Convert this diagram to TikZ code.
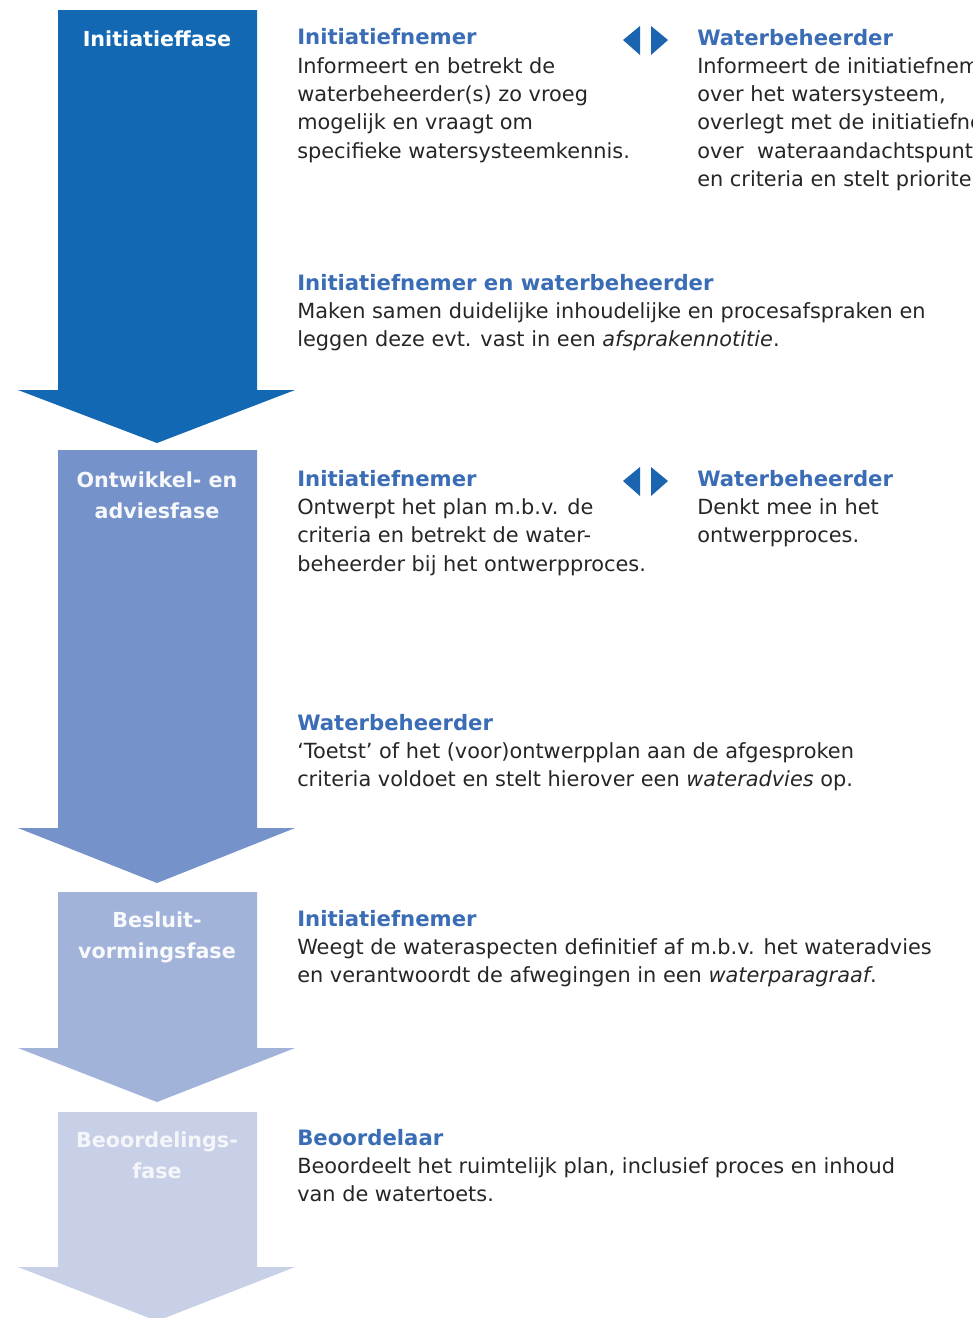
\documentclass[tikz,border=0pt]{standalone}
\usepackage{fontspec}
\setmainfont{DejaVu Sans}
\definecolor{cA}{HTML}{1268B3}
\definecolor{cB}{HTML}{7592CA}
\definecolor{cC}{HTML}{A2B3DA}
\definecolor{cD}{HTML}{C8D0E8}
\definecolor{headblue}{HTML}{3A6DB5}
\definecolor{bodytext}{HTML}{262626}
\definecolor{symblue}{HTML}{1B64B0}
\newcommand{\hdtxt}[1]{{\color{headblue}\fontsize{15.9}{21.2}\selectfont\bfseries #1}}
\tikzset{
  phasearrow/.style={fill=#1, draw=none},
  phaselabel/.style={text=#1, font=\fontsize{15.5}{23.25}\selectfont\bfseries, align=center, anchor=base, inner sep=0pt},
  blk/.style={text=bodytext, font=\fontsize{15.65}{21.2}\selectfont, align=left, anchor=base west, inner sep=0pt},
  tri/.style={fill=symblue, draw=none}
}
\begin{document}
\begin{tikzpicture}[x=0.75pt,y=-0.75pt]
\useasboundingbox (0,0) rectangle (973,1318);
\fill[white] (0,0) rectangle (973,1318);
% phase arrows
\fill[phasearrow=cA] (58,10) -- (257,10) -- (257,390) -- (295,390) -- (157,443) -- (18,390) -- (58,390) -- cycle;
\fill[phasearrow=cB] (58,450) -- (257,450) -- (257,828) -- (295,828) -- (157,883) -- (18,828) -- (58,828) -- cycle;
\fill[phasearrow=cC] (58,892) -- (257,892) -- (257,1048) -- (295,1048) -- (157,1102) -- (18,1048) -- (58,1048) -- cycle;
\fill[phasearrow=cD] (58,1112) -- (257,1112) -- (257,1267) -- (295,1267) -- (157,1321) -- (18,1267) -- (58,1267) -- cycle;
% phase labels (anchored at the baseline of the last line)
\node[phaselabel=white] (p1) at (157,46) {Initiatieffase};
\node[phaselabel={white!94!cB}] (p2) at (157,518) {Ontwikkel- en\\adviesfase};
\node[phaselabel={white!94!cC}] (p3) at (157,958) {Besluit-\\vormingsfase};
\node[phaselabel={white!80!cD}] (p4) at (157,1178) {Beoordelings-\\fase};
% double arrow symbols
\fill[tri] (623,40) -- (640,26) -- (640,55) -- cycle;
\fill[tri] (668,40) -- (651,26) -- (651,55) -- cycle;
\fill[tri] (623,481) -- (640,467) -- (640,496) -- cycle;
\fill[tri] (668,481) -- (651,467) -- (651,496) -- cycle;
% text blocks (anchored at the baseline of the last line)
\node[blk] (a1) at (297,158) {\hdtxt{Initiatiefnemer}\\Informeert en betrekt de\\waterbeheerder(s) zo vroeg\\mogelijk en vraagt om\\specifieke watersysteemkennis.};
\node[blk] (a2) at (697,186.5) {\hdtxt{Waterbeheerder}\\Informeert de initiatiefnemer\\over het watersysteem,\\overlegt met de initiatiefnemer\\over\ \ wateraandachtspunten\\en criteria en stelt prioriteiten.};
\node[blk] (a3) at (297,346.6) {\hdtxt{Initiatiefnemer en waterbeheerder}\\Maken samen duidelijke inhoudelijke en procesafspraken en\\leggen deze evt. vast in een \textit{afsprakennotitie}.};
\node[blk] (b1) at (297,571) {\hdtxt{Initiatiefnemer}\\Ontwerpt het plan m.b.v. de\\criteria en betrekt de water-\\beheerder bij het ontwerpproces.};
\node[blk] (b2) at (697,542.6) {\hdtxt{Waterbeheerder}\\Denkt mee in het\\ontwerpproces.};
\node[blk] (b3) at (297,786.6) {\hdtxt{Waterbeheerder}\\`Toetst' of het (voor)ontwerpplan aan de afgesproken\\criteria voldoet en stelt hierover een \textit{wateradvies} op.};
\node[blk] (c1) at (297,982.6) {\hdtxt{Initiatiefnemer}\\Weegt de wateraspecten definitief af m.b.v. het wateradvies\\en verantwoordt de afwegingen in een \textit{waterparagraaf}.};
\node[blk] (d1) at (297,1201.6) {\hdtxt{Beoordelaar}\\Beoordeelt het ruimtelijk plan, inclusief proces en inhoud\\van de watertoets.};
\end{tikzpicture}
\end{document}
